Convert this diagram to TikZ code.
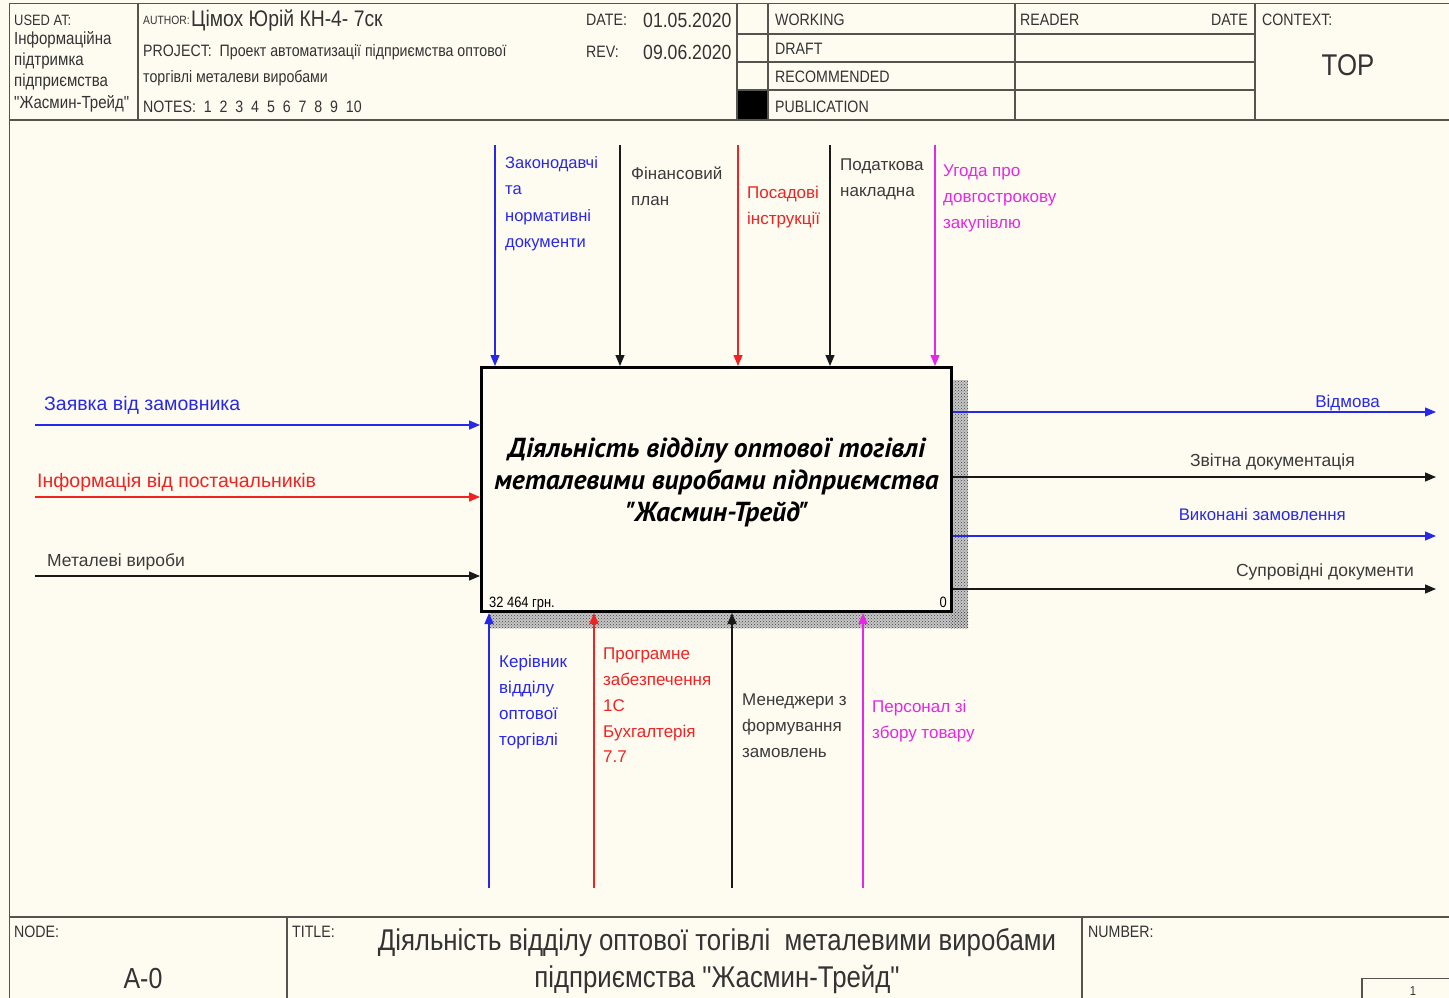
\documentclass[tikz,border=0pt]{standalone}
\usepackage{fontspec}
\setmainfont{Liberation Sans}
\newfontfamily\narrow[FakeStretch=0.86]{Liberation Sans}
\newfontfamily\boxfnt{PT Sans}
\usetikzlibrary{arrows.meta,patterns}
\definecolor{paper}{RGB}{254,251,241}
\definecolor{frame}{RGB}{85,85,80}
\definecolor{cblue}{RGB}{40,40,235}
\definecolor{cred}{RGB}{240,35,35}
\definecolor{cmag}{RGB}{230,40,230}
\definecolor{cblk}{RGB}{25,25,25}
\newcommand\fs[2]{\fontsize{#1}{#2}\selectfont}
\begin{document}
\begin{tikzpicture}[x=1pt,y=-1pt,
  rule/.style={draw=frame,line width=1.8pt},
  hdr/.style={font=\narrow\fs{16.5}{21.5},inner sep=0,anchor=west,text=black!80},
  flow/.style={line width=1.3pt,-{Triangle[length=11pt,width=9pt]}},
  lab/.style={font=\fs{17}{26},inner sep=0,align=left,anchor=north west},
  side/.style={font=\fs{19.5}{20},inner sep=0,anchor=base west},
  outl/.style={font=\fs{17.5}{20},inner sep=0,anchor=base east},
  act/.style={draw=black,line width=3pt,fill=paper,minimum width=470pt,minimum height=244pt,inner sep=0},
  shade/.style={pattern=crosshatch dots,pattern color=black!75}
]
\useasboundingbox (0,0) rectangle (1449,998);
\fill[paper] (0,0) rectangle (1449,998);
\clip (0,0) rectangle (1449,998);

% ---------- outer frame and header grid ----------
\draw[rule] (1455,3.5) -- (9.5,3.5) -- (9.5,1002);
\draw[rule] (9.5,120) -- (1455,120);
\draw[rule] (138,3.5) -- (138,120);
\draw[rule] (737,3.5) -- (737,120);
\draw[rule] (768,3.5) -- (768,120);
\draw[rule] (1015,3.5) -- (1015,120);
\draw[rule] (1255,3.5) -- (1255,120);
\foreach \yy in {34,62,90} \draw[rule] (737,\yy) -- (1255,\yy);
\fill[black] (738,91) rectangle (767,119);

% header texts
\node[hdr,font=\narrow\fs{15}{20}] (usedat) at (14,20) {USED AT:};
\node[hdr,anchor=north west,align=left,font=\narrow\fs{17.5}{21.3}] (usedtxt) at (14,31)
  {Інформаційна\\підтримка\\підприємства\\"Жасмин-Трейд"};
\node[hdr,font=\narrow\fs{12}{20}] (author) at (143,20) {AUTHOR:};
\node[hdr,font=\narrow\fs{22.5}{24}] (authname) at (191,20) {Цімох Юрій КН-4- 7ск};
\node[hdr] (project) at (143,52) {PROJECT:\ \ Проект автоматизації підприємства оптової};
\node[hdr] (project2) at (143,78) {торгівлі металеви виробами};
\node[hdr] (notes) at (143,107) {NOTES:\ \ 1\ \ 2\ \ 3\ \ 4\ \ 5\ \ 6\ \ 7\ \ 8\ \ 9\ \ 10};
\node[hdr] (date) at (586,20) {DATE:};
\node[hdr,font=\narrow\fs{20.5}{22}] (dateval) at (643,20) {01.05.2020};
\node[hdr] (rev) at (586,52) {REV:};
\node[hdr,font=\narrow\fs{20.5}{22}] (revval) at (643,52) {09.06.2020};
\node[hdr] (working) at (775,20) {WORKING};
\node[hdr] (draft) at (775,49) {DRAFT};
\node[hdr] (recom) at (775,77) {RECOMMENDED};
\node[hdr] (publ) at (775,107) {PUBLICATION};
\node[hdr] (reader) at (1020,20) {READER};
\node[hdr,anchor=east] (rdate) at (1248,20) {DATE};
\node[hdr] (context) at (1262,20) {CONTEXT:};
\node[hdr,anchor=center,font=\narrow\fs{30}{30}] (top) at (1348,65) {TOP};

% ---------- footer ----------
\draw[rule] (9.5,917) -- (1455,917);
\draw[rule] (287,917) -- (287,1002);
\draw[rule] (1082,917) -- (1082,1002);
\draw[draw=frame,line width=1.3pt] (1362,1002) -- (1362,978.5) -- (1455,978.5);
\node[hdr,anchor=north west] (nodelbl) at (14,926) {NODE:};
\node[hdr,anchor=center,font=\narrow\fs{29}{30}] (nodeval) at (143,979) {A-0};
\node[hdr,anchor=north west] (titlelbl) at (292,926) {TITLE:};
\node[hdr,anchor=center,align=center,font=\narrow\fs{30}{37}] (titletxt) at (717,961)
  {Діяльність відділу оптової тогівлі\ \ металевими виробами\\підприємства "Жасмин-Трейд"};
\node[hdr,anchor=north west] (numlbl) at (1088,926) {NUMBER:};
\node[hdr,anchor=center,font=\narrow\fs{13}{14}] (pagenum) at (1413,991) {1};

% ---------- activity box with hatched shadow ----------
\fill[black!22] (950,380) rectangle (968,628);
\fill[black!22] (490,610) rectangle (968,628);
\fill[shade] (950,380) rectangle (968,628);
\fill[shade] (490,610) rectangle (968,628);
\node[act] (box) at (716.5,489.5) {};
\node[font=\boxfnt\bfseries\itshape\fs{27.5}{32},align=center,inner sep=0] (boxtitle)
  at ([yshift=7pt]box.center)
  {Діяльність відділу оптової тогівлі\\металевими виробами підприємства\\"Жасмин-Трейд"};
\node[font=\narrow\fs{15}{16},inner sep=0,anchor=base west] (cost) at (489,607) {32 464 грн.};
\node[font=\narrow\fs{15}{16},inner sep=0,anchor=base east] (boxno) at (947,607) {0};

% ---------- inputs ----------
\coordinate (i1) at (35,425);
\coordinate (i2) at (35,497);
\coordinate (i3) at (35,576);
\draw[flow,cblue] (i1) -- (i1 -| box.west);
\draw[flow,cred] (i2) -- (i2 -| box.west);
\draw[flow,cblk] (i3) -- (i3 -| box.west);
\node[side,text=cblue] (in1) at (44,410) {Заявка від замовника};
\node[side,text=cred] (in2) at (37,487) {Інформація від постачальників};
\node[side,text=cblk!85,font=\fs{17.5}{20}] (in3) at (47,566) {Металеві вироби};

% ---------- outputs ----------
\coordinate (o1) at (1436,412);
\coordinate (o2) at (1436,477);
\coordinate (o3) at (1436,536);
\coordinate (o4) at (1436,589);
\draw[flow,cblue] (o1 -| box.east) -- (o1);
\draw[flow,cblk] (o2 -| box.east) -- (o2);
\draw[flow,cblue] (o3 -| box.east) -- (o3);
\draw[flow,cblk] (o4 -| box.east) -- (o4);
\node[outl,text=cblue,font=\fs{17}{20}] (out1) at (1380,407) {Відмова};
\node[outl,text=cblk!85] (out2) at (1355,466) {Звітна документація};
\node[outl,text=cblue,font=\fs{16.8}{20}] (out3) at (1346,520) {Виконані замовлення};
\node[outl,text=cblk!85] (out4) at (1414,576) {Супровідні документи};

% ---------- controls ----------
\coordinate (c1) at (495,145);
\coordinate (c2) at (620,145);
\coordinate (c3) at (738,145);
\coordinate (c4) at (830,145);
\coordinate (c5) at (935,145);
\draw[flow,cblue] (c1) -- (c1 |- box.north);
\draw[flow,cblk] (c2) -- (c2 |- box.north);
\draw[flow,cred] (c3) -- (c3 |- box.north);
\draw[flow,cblk] (c4) -- (c4 |- box.north);
\draw[flow,cmag] (c5) -- (c5 |- box.north);
\node[lab,text=cblue,font=\fs{16.5}{26.5}] (ctl1) at (505,156) {Законодавчі\\та\\нормативні\\документи};
\node[lab,text=cblk!85] (ctl2) at (631,167) {Фінансовий\\план};
\node[lab,text=cred] (ctl3) at (747,186) {Посадові\\інструкції};
\node[lab,text=cblk!85] (ctl4) at (840,159) {Податкова\\накладна};
\node[lab,text=cmag] (ctl5) at (943,165) {Угода про\\довгострокову\\закупівлю};

% ---------- mechanisms ----------
\coordinate (m1) at (489,888);
\coordinate (m2) at (594,888);
\coordinate (m3) at (732,888);
\coordinate (m4) at (863,888);
\draw[flow,cblue] (m1) -- (m1 |- box.south);
\draw[flow,cred] (m2) -- (m2 |- box.south);
\draw[flow,cblk] (m3) -- (m3 |- box.south);
\draw[flow,cmag] (m4) -- (m4 |- box.south);
\node[lab,text=cblue] (mech1) at (499,655) {Керівник\\відділу\\оптової\\торгівлі};
\node[lab,text=cred,font=\fs{17}{25.7}] (mech2) at (603,648) {Програмне\\забезпечення\\1С\\Бухгалтерія\\7.7};
\node[lab,text=cblk!85] (mech3) at (742,694) {Менеджери з\\формування\\замовлень};
\node[lab,text=cmag] (mech4) at (872,700) {Персонал зі\\збору товару};
\end{tikzpicture}
\end{document}
